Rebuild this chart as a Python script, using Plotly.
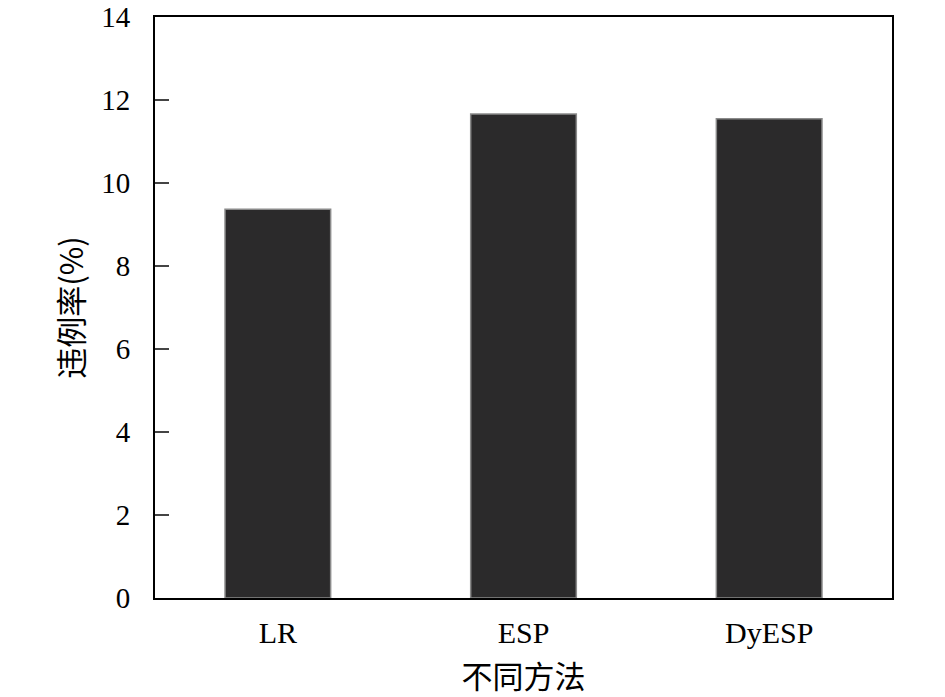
import plotly.graph_objects as go

methods = ["LR", "ESP", "DyESP"]
violation_rate = [9.37, 11.66, 11.55]
y_ticks = [0, 2, 4, 6, 8, 10, 12, 14]

serif = "Liberation Serif, Times New Roman, serif"
cjk = "Noto Sans CJK SC, sans-serif"

fig = go.Figure()
fig.add_trace(go.Bar(
    x=methods,
    y=violation_rate,
    width=0.43,
    marker=dict(
        color="#2b2a2b",
        line=dict(color="#8a8a8a", width=1.5)),
    showlegend=False))

fig.update_layout(
    width=945,
    height=697,
    autosize=False,
    paper_bgcolor="white",
    plot_bgcolor="white",
    margin=dict(l=155, r=53, t=17, b=99),
    bargap=0.57)

fig.update_xaxes(
    automargin=False,
    showline=True,
    linecolor="black",
    linewidth=2,
    mirror=True,
    ticks="",
    tickfont=dict(family=serif, size=30, color="black"),
    ticklabelstandoff=7,
    title=dict(text="不同方法", font=dict(family=cjk, size=31, color="black"), standoff=21))

fig.update_yaxes(
    automargin=False,
    range=[0, 14],
    tickvals=y_ticks,
    showline=True,
    linecolor="black",
    linewidth=2,
    mirror=True,
    showgrid=False,
    zeroline=False,
    ticks="inside",
    ticklen=14,
    tickwidth=2,
    tickcolor="#444444",
    tickfont=dict(family=serif, size=29, color="black"),
    ticklabelstandoff=17,
    ticklabeloverflow="allow",
    title=dict(text="违例率(%)", font=dict(family=cjk, size=31, color="black"), standoff=8))

# page body has a default 8px margin; drop it so the figure sits at 0,0
fig.write_html("out.html", config={"displayModeBar": False},
               post_script="document.body.style.margin='0';")
